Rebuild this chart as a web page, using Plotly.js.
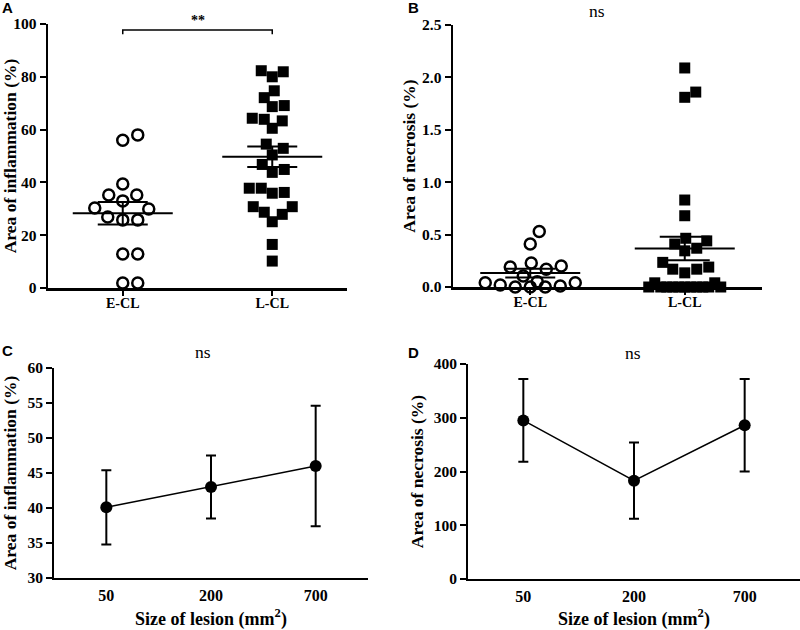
<!DOCTYPE html>
<html><head><meta charset="utf-8">
<script src="https://cdn.plot.ly/plotly-3.0.1.min.js"></script>
<style>html,body{margin:0;padding:0;background:#fff}#chart{width:800px;height:630px}</style>
</head><body><div id="chart"></div>
<script>
// ---------- data ----------
const groups = ['E-CL', 'L-CL'];
// Panel A: area of inflammation (%)
const inflamEarly = [58, 56, 39.4, 35.2, 35.2, 33, 30.3, 29.9, 26.9, 25.8, 25.8, 12.9, 12.9, 1.9, 1.9];
const inflamLate = [82.3, 81.9, 80, 74.7, 72.1, 68.7, 69.1, 64.3, 63.3, 63.9, 60.5, 54.5, 52.9, 50.4, 46.8, 44.9, 43.8, 37.8, 35.9, 36.2, 37.8, 30.8, 28.7, 30.8, 27.9, 25.1, 16.5, 10.2];
// Panel B: area of necrosis (%)
const necrEarly = [0.53, 0.41, 0.23, 0.19, 0.17, 0.20, 0.105, 0.04, 0.02, 0, 0, 0.05, 0, 0.01, 0.04];
const necrLate = [2.09, 1.81, 1.86, 0.83, 0.68, 0.465, 0.41, 0.44, 0.345, 0.37, 0.235, 0.19, 0.17, 0.135, 0.17, 0.04, 0, 0, 0, 0, 0, 0, 0, 0, 0, 0, 0, 0.04];
// Panels C & D: by lesion size
const lesionSizes = ['50', '200', '700'];
const inflamBySize = [40.1, 43.0, 46.0];
const inflamBySizeErr = [5.3, 4.5, 8.6];
const necrBySize = [295, 183, 286];
const necrBySizeErr = [77, 71, 86];

// ---------- layout geometry ----------
const W = 800, H = 630;
function box(x0, x1, y0, y1) { return {x: [x0 / W, x1 / W], y: [1 - y1 / H, 1 - y0 / H], pw: x1 - x0, ph: y1 - y0}; }
const bA = box(48, 347, 24, 288), bB = box(453, 762, 25, 287), bC = box(54, 368, 368, 578), bD = box(468, 800, 364, 579);
const rA = [0, 100], rB = [0, 2.5];

// beeswarm offsets (pixel space), returned in x data units
function swarm(vals, pxX, pxY, D, maxPx) {
  const order = vals.map((v, i) => i).sort((a, b) => vals[a] - vals[b]);
  const placed = [];
  const out = new Array(vals.length).fill(0);
  for (const i of order) {
    const y = vals[i] * pxY;
    let bestDx = 0, bestScore = -Infinity;
    for (let k = 0; k <= 2 * maxPx; k++) {
      const dx = k % 2 ? (k + 1) / 2 : -k / 2;
      let md = Infinity;
      for (const p of placed) { const d = Math.hypot(dx - p.x, y - p.y); if (d < md) md = d; }
      if (md >= D) { bestDx = dx; break; }
      if (md > bestScore) { bestScore = md; bestDx = dx; }
    }
    placed.push({x: bestDx, y});
    out[i] = bestDx / pxX;
  }
  return out;
}
function meanSem(v) {
  const n = v.length, m = v.reduce((a, b) => a + b, 0) / n;
  const sd = Math.sqrt(v.reduce((a, b) => a + (b - m) * (b - m), 0) / (n - 1));
  return {m, s: sd / Math.sqrt(n)};
}

const black = '#000';
const serif = 'Liberation Serif, Times New Roman, serif';
const traces = [];

function dotPanel(xa, ya, b, range, early, late, dC, dS) {
  const pxX = b.pw / 2, pxY = b.ph / (range[1] - range[0]);
  const oE = swarm(early, pxX, pxY, dC, 45);
  const oL = swarm(late, pxX, pxY, dS, 36);
  traces.push({x: oE.map(o => 0 + o), y: early, xaxis: xa, yaxis: ya, type: 'scatter', mode: 'markers', cliponaxis: false,
    marker: {symbol: 'circle-open', size: 11, color: black, line: {width: 2.5, color: black}}, hoverinfo: 'y'});
  traces.push({x: oL.map(o => 1 + o), y: late, xaxis: xa, yaxis: ya, type: 'scatter', mode: 'markers', cliponaxis: false,
    marker: {symbol: 'square', size: 11, color: black, line: {width: 0}}, hoverinfo: 'y'});
  [early, late].forEach((v, c) => {
    const {m, s} = meanSem(v);
    const mw = 50 / pxX, sw = 25 / pxX;
    traces.push({x: [c - mw, c + mw, null, c - sw, c + sw, null, c - sw, c + sw, null, c, c],
      y: [m, m, null, m + s, m + s, null, m - s, m - s, null, m - s, m + s],
      xaxis: xa, yaxis: ya, type: 'scatter', mode: 'lines', line: {color: black, width: 2}, hoverinfo: 'skip', cliponaxis: false});
  });
}
dotPanel('x', 'y', bA, rA, inflamEarly, inflamLate, 15, 12);
dotPanel('x2', 'y2', bB, rB, necrEarly, necrLate, 15, 12);

function linePanel(xa, ya, vals, errs) {
  traces.push({x: lesionSizes, y: vals, xaxis: xa, yaxis: ya, type: 'scatter', mode: 'lines+markers', cliponaxis: false,
    line: {color: black, width: 1.5}, marker: {size: 12, color: black},
    error_y: {type: 'data', array: errs, visible: true, color: black, thickness: 2, width: 5}});
}
linePanel('x3', 'y3', inflamBySize, inflamBySizeErr);
linePanel('x4', 'y4', necrBySize, necrBySizeErr);

const tickBold = s => ({family: serif, size: s, color: black, weight: 'bold'});
function xCat(b, anchor, lw) {
  return {domain: b.x, anchor, range: [-0.5, 1.5], tickmode: 'array', tickvals: [0, 1], ticktext: groups,
    showline: true, linewidth: lw, linecolor: black, ticks: 'outside', ticklen: 5, tickwidth: 2, tickcolor: black,
    ticklabelstandoff: -4, tickfont: tickBold(14), showgrid: false, zeroline: false, fixedrange: true};
}
function yAx(b, anchor, range, dtick, title, lw, standoff, fmt) {
  return {domain: b.y, anchor, range, dtick, tick0: 0, tickformat: fmt || '', showline: true, linewidth: lw, linecolor: black,
    ticks: 'outside', ticklen: 6, tickwidth: 2, tickcolor: black, tickfont: tickBold(15.5), showgrid: false, zeroline: false,
    fixedrange: true, title: {text: title, font: tickBold(17.5), standoff}};
}
function xSize(b, anchor) {
  return {domain: b.x, anchor, type: 'category', range: [-0.5, 2.5], showline: true, linewidth: 2, linecolor: black,
    ticks: '', ticklabelstandoff: 2, tickfont: tickBold(16), showgrid: false, zeroline: false, fixedrange: true,
    title: {text: 'Size of lesion (mm<sup>2</sup>)', font: tickBold(18), standoff: 17}};
}

const ann = (x, y, text, font, extra) => Object.assign({xref: 'paper', yref: 'paper', x: x / W, y: 1 - y / H, text, showarrow: false,
  xanchor: 'center', yanchor: 'middle', font}, extra || {});
const letter = {family: 'Liberation Sans, Arial, sans-serif', size: 15, color: black, weight: 'bold'};
const nsFont = {family: serif, size: 17.5, color: black};

const layout = {
  width: W, height: H, margin: {l: 0, r: 0, t: 0, b: 0}, paper_bgcolor: '#fff', plot_bgcolor: 'rgba(0,0,0,0)', showlegend: false,
  xaxis: xCat(bA, 'y', 2.5), yaxis: yAx(bA, 'x', rA, 20, 'Area of inflammation (%)', 2.5, 1),
  xaxis2: xCat(bB, 'y2', 2.5), yaxis2: yAx(bB, 'x2', rB, 0.5, 'Area of necrosis (%)', 2.5, 2, '.1f'),
  xaxis3: xSize(bC, 'y3'), yaxis3: yAx(bC, 'x3', [30, 60], 5, 'Area of inflammation (%)', 2, 7),
  xaxis4: xSize(bD, 'y4'), yaxis4: yAx(bD, 'x4', [0, 400], 100, 'Area of necrosis (%)', 2, 6),
  shapes: [{type: 'path', xref: 'x', yref: 'y', path: 'M0,96.1 L0,97.7 L1,97.7 L1,96.1', line: {color: black, width: 1.5}}],
  annotations: [
    {xref: 'x', yref: 'y', x: 0.5, y: 97.7, text: '**', showarrow: false, yanchor: 'bottom', font: tickBold(14)},
    ann(7.5, 8, 'A', letter), ann(413, 8, 'B', letter), ann(7.5, 350, 'C', letter), ann(413, 352, 'D', letter),
    ann(597, 0, 'ns', nsFont, {yanchor: 'top', borderpad: 0}), ann(203, 352, 'ns', nsFont), ann(633, 353, 'ns', nsFont)
  ]
};
Plotly.newPlot('chart', traces, layout, {staticPlot: true, displayModeBar: false});
</script></body></html>
